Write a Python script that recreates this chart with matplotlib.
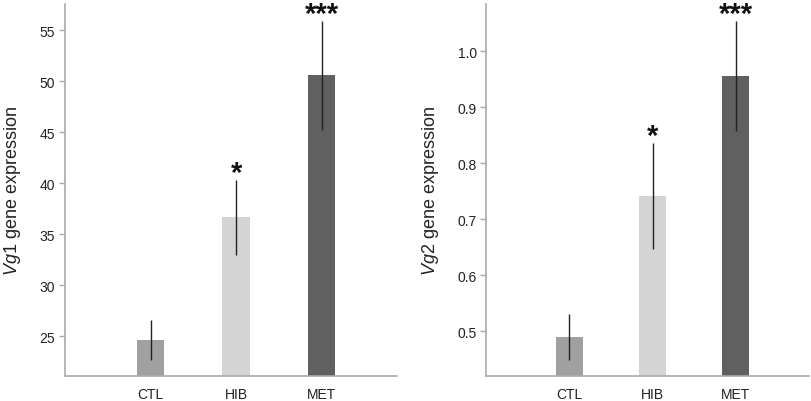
import matplotlib
matplotlib.use("Agg")
import matplotlib.pyplot as plt
import numpy as np

plt.rcParams["font.family"] = ["Liberation Sans", "DejaVu Sans"]
plt.rcParams["mathtext.fontset"] = "custom"
plt.rcParams["mathtext.it"] = "Liberation Sans:italic"
plt.rcParams["mathtext.rm"] = "Liberation Sans"

groups = ["CTL", "HIB", "MET"]
colors = ["#a0a0a0", "#d4d4d4", "#606060"]
stars = ["", "*", "***"]

vg1_mean = [24.6, 36.65, 50.6]
vg1_err = [1.95, 3.65, 5.35]
vg1_ticks = [25, 30, 35, 40, 45, 50, 55]

vg2_mean = [0.490, 0.742, 0.956]
vg2_err = [0.041, 0.095, 0.099]
vg2_ticks = [0.5, 0.6, 0.7, 0.8, 0.9, 1.0]

fig = plt.figure(figsize=(8.12, 4.02), dpi=100)
ax1 = fig.add_axes([0.080, 0.062, 0.409, 0.926])
ax2 = fig.add_axes([0.599, 0.062, 0.397, 0.926])


def panel(ax, mean, err, ticks, ylim, fmt, gene, star_off):
    x = np.arange(1, len(groups) + 1)
    ax.bar(x, mean, 0.32, color=colors, zorder=2)
    ax.errorbar(x, mean, yerr=err, fmt="none", ecolor="#222222", elinewidth=1.0,
                capsize=0, zorder=3)
    for xi, m, e, s in zip(x, mean, err, stars):
        if s:
            ax.text(xi, m + e + star_off, s, ha="center", va="bottom",
                    fontsize=21, fontweight="bold", color="#111111")
    ax.set_xlim(0, 3.88)
    ax.set_ylim(*ylim)
    ax.set_xticks(x)
    ax.set_xticklabels(groups, fontsize=10, color="#222222")
    ax.set_yticks(ticks)
    ax.set_yticklabels([fmt % t for t in ticks], fontsize=10, color="#222222")
    ax.tick_params(axis="x", length=0, pad=8)
    ax.tick_params(axis="y", length=4, color="#aaaaaa", width=1, pad=3)
    for s in ["top", "right"]:
        ax.spines[s].set_visible(False)
    for s in ["left", "bottom"]:
        ax.spines[s].set_color("#aaaaaa")
        ax.spines[s].set_linewidth(1.2)
    ax.set_ylabel(r"$\mathit{%s}$ gene expression" % gene, fontsize=13, color="#222222",
                  labelpad=12)


panel(ax1, vg1_mean, vg1_err, vg1_ticks, (21.07, 57.6), "%d", "Vg1", -0.7)
panel(ax2, vg2_mean, vg2_err, vg2_ticks, (0.42, 1.085), "%.1f", "Vg2", -0.013)

fig.savefig("out.png", dpi=100)
